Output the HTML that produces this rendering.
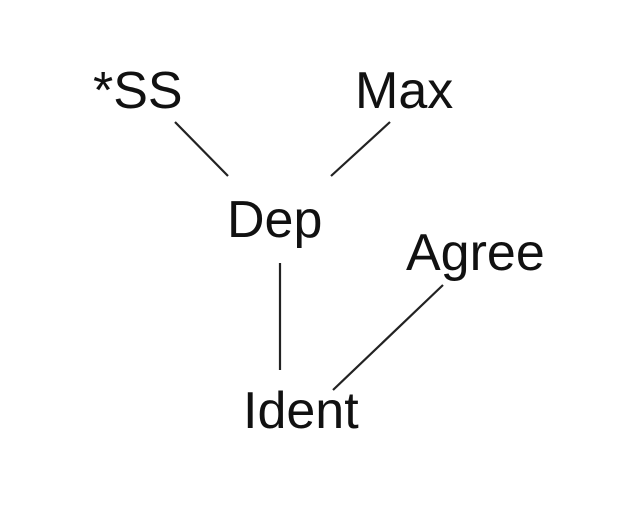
<!DOCTYPE html>
<html><head><style>
html,body{margin:0;padding:0;background:#fff;}
body{width:617px;height:512px;overflow:hidden;position:relative;}
svg{position:absolute;left:0;top:0;}
text{font-family:"Liberation Sans",Arial,sans-serif;font-size:52px;fill:#111;}
</style></head><body>
<svg width="617" height="512" viewBox="0 0 617 512">
<text x="93" y="108">*SS</text>
<text x="355" y="108">Max</text>
<text x="227" y="237">Dep</text>
<text x="406" y="270">Agree</text>
<text x="243" y="428">Ident</text>
<g stroke="#222" stroke-width="2.2" fill="none">
<line x1="175" y1="122" x2="228" y2="176"/>
<line x1="390" y1="122" x2="331" y2="176"/>
<line x1="280" y1="263" x2="280" y2="370"/>
<line x1="443" y1="285" x2="333" y2="390"/>
</g>
</svg>
</body></html>
